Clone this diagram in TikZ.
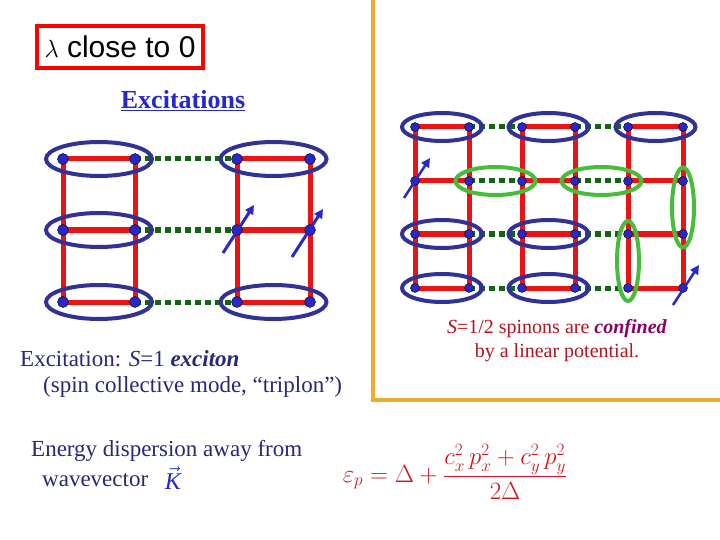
\documentclass[tikz,border=0pt]{standalone}
\usepackage{fontspec}
\setmainfont{Liberation Serif}
\newfontfamily\sansf{Liberation Sans}
\usetikzlibrary{arrows.meta,calc}
\definecolor{dblue}{RGB}{50,50,150}
\definecolor{sred}{RGB}{235,20,20}
\definecolor{dgreen}{RGB}{20,100,20}
\definecolor{lgreen}{RGB}{70,190,60}
\definecolor{navy}{RGB}{40,40,200}
\definecolor{tnavy}{RGB}{40,40,120}
\definecolor{orng}{RGB}{240,170,50}
\definecolor{conf}{RGB}{140,0,100}
\definecolor{dred}{RGB}{180,20,30}
\definecolor{fred}{RGB}{210,20,30}
\tikzset{
 site/.style={circle,fill=navy,draw=black,line width=0.4pt,inner sep=0pt,minimum size=11pt},
 bond/.style={sred,line width=5pt},
 weak/.style={dgreen,line width=5pt,dash pattern=on 6pt off 4pt},
 dimer/.style={dblue,line width=4pt},
 gdimer/.style={lgreen,line width=4pt},
 spin/.style={navy,line width=3pt,-{Triangle[length=9pt,width=9pt]}},
 txt/.style={font=\fontsize{23}{26}\selectfont,inner sep=0pt,text=tnavy}
}
\begin{document}
\begin{tikzpicture}[x=1pt,y=-1pt]
\useasboundingbox (0,0) rectangle (720,540);
\fill[white] (0,0) rectangle (720,540);
% header
\node[draw=red,line width=4pt,minimum width=166pt,minimum height=42pt,anchor=north west,inner sep=0pt] (hdr) at (35,24) {};
\node[font=\sansf\fontsize{30}{32}\selectfont] (hdrt) at (hdr.center) {$\lambda$ close to 0};
\node[txt,font=\bfseries\fontsize{26}{28}\selectfont,text=navy] (exc) at (183,101) {\underline{Excitations}};
% orange frame
\coordinate (o1) at (373,0); \coordinate (o2) at (373,400); \coordinate (o3) at (720,400);
\draw[orng,line width=4pt] (o1) -- (o2) -- (o3);
% left lattice
\foreach \c/\x in {1/63,2/135,3/237,4/310}{\foreach \r/\y in {1/159,2/230,3/302}{\coordinate (L\c\r) at (\x,\y);}}
\foreach \c in {1,2,3,4}{\draw[bond] (L\c1) -- (L\c3);}
\foreach \r in {1,2,3}{\draw[bond] (L1\r) -- (L2\r); \draw[bond] (L3\r) -- (L4\r); \draw[weak] (L2\r) -- (L3\r);}
\foreach \r in {1,2,3}{\draw[dimer] ($(L1\r)!0.5!(L2\r)$) ellipse (53 and 17);}
\foreach \r in {1,3}{\draw[dimer] ($(L3\r)!0.5!(L4\r)$) ellipse (53 and 17);}
\foreach \c in {1,2,3,4}{\foreach \r in {1,2,3}{\node[site] (l\c\r) at (L\c\r) {};}}
\coordinate (a1s) at (223,253); \coordinate (a1e) at (254,205);
\coordinate (a2s) at (292,257); \coordinate (a2e) at (323,209);
\draw[spin] (a1s) -- (a1e); \draw[spin] (a2s) -- (a2e);
% right lattice
\foreach \c/\x in {1/415,2/469,3/522,4/575,5/628,6/683}{\foreach \r/\y in {1/127,2/181,3/234,4/288}{\coordinate (R\c\r) at (\x,\y);}}
\foreach \c in {1,...,6}{\draw[bond] (R\c1) -- (R\c4);}
\foreach \r in {1,2,3,4}{\draw[bond] (R1\r) -- (R2\r); \draw[bond] (R3\r) -- (R4\r); \draw[bond] (R5\r) -- (R6\r);
 \draw[weak] (R2\r) -- (R3\r); \draw[weak] (R4\r) -- (R5\r);}
\foreach \a/\b in {R11/R21,R31/R41,R51/R61,R13/R23,R33/R43,R14/R24,R34/R44}{
 \draw[dimer] ($(\a)!0.5!(\b)$) ellipse (40 and 14);}
\draw[gdimer] ($(R22)!0.5!(R32)$) ellipse (40 and 14);
\draw[gdimer] ($(R42)!0.5!(R52)$) ellipse (40 and 14);
\draw[gdimer] ($(R53)!0.5!(R54)$) ellipse (11 and 40);
\draw[gdimer] ($(R62)!0.5!(R63)$) ellipse (11 and 40);
\foreach \c in {1,...,6}{\foreach \r in {1,2,3,4}{\node[site,minimum size=9pt] (r\c\r) at (R\c\r) {};}}
\coordinate (a3s) at (404,198); \coordinate (a3e) at (430,158);
\coordinate (a4s) at (673,305); \coordinate (a4e) at (699,265);
\draw[spin,line width=2.5pt] (a3s) -- (a3e); \draw[spin,line width=2.5pt] (a4s) -- (a4e);
% texts
\node[txt,align=center,font=\fontsize{20}{24}\selectfont,text=dred] (conf) at (557,341) {\textit{S}=1/2 spinons are \textcolor{conf}{\textbf{\textit{confined}}}\\by a linear potential.};
\node[txt,anchor=west] (ex1) at (20,359) {Excitation: \textit{S}=1 \textbf{\textit{exciton}}};
\node[txt,anchor=west] (ex2) at (43,387) {(spin collective mode, “triplon”)};
\node[txt,anchor=west] (en1) at (31,451) {Energy dispersion away from};
\node[txt,anchor=west] (en2) at (42,480) {wavevector};
\node[txt,font=\fontsize{24}{26}\selectfont,text=navy,anchor=base] (K) at (173,489) {$\vec{\mathit{K}}$};
\node[txt,font=\fontsize{24}{30}\selectfont,text=fred] (eq) at (455,472) {$\displaystyle\varepsilon_p=\Delta+\frac{c_x^2\,p_x^2+c_y^2\,p_y^2}{2\Delta}$};
\end{tikzpicture}
\end{document}
